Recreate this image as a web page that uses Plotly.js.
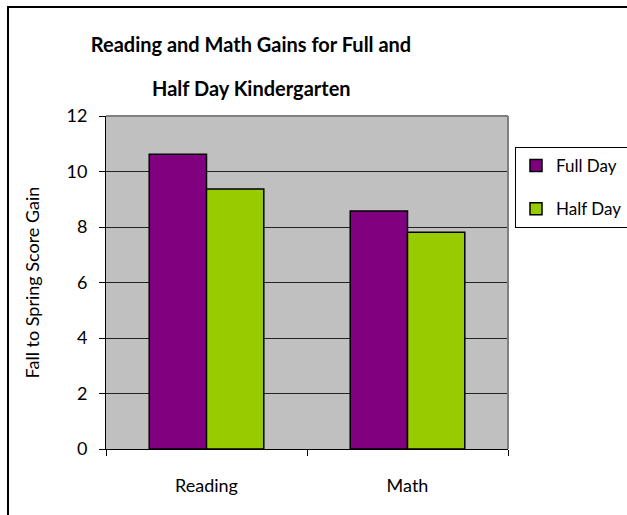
<!DOCTYPE html>
<html>
<head>
<meta charset="utf-8">
<script src="https://cdn.plot.ly/plotly-3.0.1.min.js"></script>
<style>
html,body{margin:0;padding:0;background:#fff;}
#chart{width:627px;height:515px;}
</style>
</head>
<body>
<div id="chart"></div>
<script>
const categories = ["Reading", "Math"];
const fullDay = [10.62, 8.58];
const halfDay = [9.37, 7.81];
const seriesNames = ["Full Day", "Half Day"];
const yTicks = [0, 2, 4, 6, 8, 10, 12];

const FONT = "Lato, 'DejaVu Sans', sans-serif";

const traces = [
  {type: "bar", name: seriesNames[0], x: categories, y: fullDay, legendgroup: "a",
   marker: {color: "#800080", line: {color: "#000", width: 1.5}}, hoverinfo: "none"},
  {type: "bar", name: seriesNames[1], x: categories, y: halfDay, legendgroup: "b",
   marker: {color: "#99CC00", line: {color: "#000", width: 1.5}}, hoverinfo: "none"}
];

const L = 106, R = 508, T = 116, B = 449, W = 627, H = 515;
const pw = R - L, ph = B - T;
const px = v => (v - L) / pw;
const py = v => (B - v) / ph;

const layout = {
  width: W, height: H,
  margin: {l: L, r: W - R, t: T, b: H - B, pad: 0, autoexpand: false},
  paper_bgcolor: "#fff",
  plot_bgcolor: "#C0C0C0",
  font: {family: FONT, color: "#000", size: 16},
  barmode: "group",
  bargap: 0.43,
  bargroupgap: 0,
  showlegend: true,
  title: {text: "<b>Reading and Math Gains for Full and</b>", font: {family: FONT, size: 20, color: "#000"},
          x: px(251), xref: "paper", xanchor: "center", y: 1 - 45 / H, yref: "container", yanchor: "middle"},
  annotations: [
    {text: "<b>Half Day Kindergarten</b>", xref: "paper", yref: "paper", x: px(251), y: py(88),
     xanchor: "center", yanchor: "middle", showarrow: false, font: {family: FONT, size: 20, color: "#000"}}
  ],
  xaxis: {
    type: "category", showgrid: false, zeroline: false,
    showline: true, linecolor: "#000", linewidth: 1,
    ticks: "outside", ticklen: 6, tickcolor: "#000", tickson: "boundaries",
    ticklabelstandoff: 20,
    tickfont: {family: FONT, size: 18}, fixedrange: true
  },
  yaxis: {
    range: [0, 12], tickvals: yTicks, ticktext: yTicks.map(String),
    showgrid: true, gridcolor: "#222", gridwidth: 1, zeroline: false,
    showline: true, linecolor: "#000", linewidth: 1,
    ticks: "outside", ticklen: 6, tickcolor: "#000",
    ticklabelstandoff: 8,
    tickfont: {family: FONT, size: 18},
    title: {text: "Fall to Spring Score Gain", font: {family: FONT, size: 18}, standoff: 22},
    automargin: false, fixedrange: true
  },
  legend: {
    x: px(515), y: py(147), xanchor: "left", yanchor: "top",
    bgcolor: "#fff", bordercolor: "#000", borderwidth: 1,
    font: {family: FONT, size: 17},
    traceorder: "grouped", tracegroupgap: 18, itemwidth: 30
  },
  shapes: [
    {type: "line", xref: "paper", yref: "paper", x0: 0, x1: 1, y0: 1, y1: 1, line: {color: "#808080", width: 2}},
    {type: "line", xref: "paper", yref: "paper", x0: 1, x1: 1, y0: 0, y1: 1, line: {color: "#808080", width: 2}},
    {type: "rect", xref: "paper", yref: "paper", x0: px(8), x1: px(700), y0: py(7), y1: py(600), line: {color: "#000", width: 2}, layer: "above"}
  ]
};

Plotly.newPlot("chart", traces, layout, {displayModeBar: false, staticPlot: true});
</script>
</body>
</html>
